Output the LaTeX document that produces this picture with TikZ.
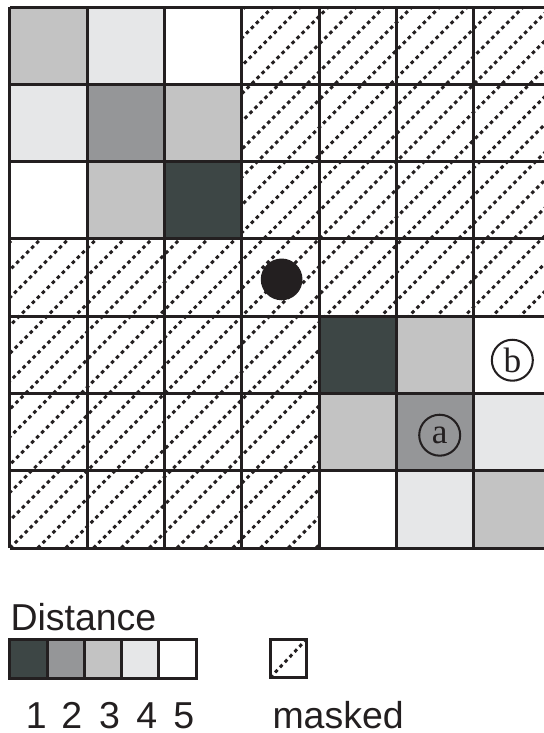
\documentclass[tikz,border=0pt]{standalone}
\usepackage{fontspec}
\setmainfont{Liberation Serif}
\setsansfont{Liberation Sans}
\usetikzlibrary{positioning}
\definecolor{dist1}{HTML}{3D4645}
\definecolor{dist2}{HTML}{959698}
\definecolor{dist3}{HTML}{C3C3C3}
\definecolor{dist4}{HTML}{E6E7E8}
\definecolor{dist5}{HTML}{FFFFFF}
\definecolor{ink}{HTML}{231F20}

\begin{document}
\begin{tikzpicture}[
    gridline/.style={draw=ink, line width=1.1pt},
    hatch/.style={draw=ink, line width=1.1pt, dash pattern=on 1.3pt off 1.3pt},
    tag/.style={circle, draw=ink, line width=0.75pt, inner sep=0pt,
        minimum size=0.53cm, font=\rmfamily\fontsize{13}{13}\selectfont, text=ink},
    seed/.style={circle, fill=ink, inner sep=0pt, minimum size=0.54cm},
    lbl/.style={font=\sffamily\fontsize{13.8}{15}\selectfont, text=ink, inner sep=0pt},
    keybox/.style={rectangle, draw=ink, line width=1.1pt, outer sep=0pt, inner sep=0pt,
        minimum width=0.482cm, minimum height=0.505cm},
]
\useasboundingbox (-0.129,-2.393) rectangle (6.909,7.091);

\begin{scope}
\clip (-0.129,-0.2) rectangle (6.909,7.091);

% DISTANCE CELLS (column / row from top / distance)
\foreach \c/\r/\d in {0/0/3, 1/0/4, 2/0/5, 0/1/4, 1/1/2, 2/1/3, 0/2/5, 1/2/3, 2/2/1,
                      4/4/1, 5/4/3, 6/4/5, 4/5/3, 5/5/2, 6/5/4, 4/6/5, 5/6/4, 6/6/3}
    \fill[dist\d] (\c,6-\r) rectangle ++(1,1);

% MASKED CELLS
\begin{scope}
    \clip (3,4) rectangle (7,7)
          (0,3) rectangle (7,4)
          (0,0) rectangle (4,3);
    \foreach \i in {-20,...,20}
        \draw[hatch] ({0.36*\i},0) -- ++(7,7);
\end{scope}

% GRID
\draw[gridline] (0,0) grid (7,7);
\end{scope}

% SEED AND MARKS
\node[seed] (origin) at (3.515,3.476) {};
\node[tag] (tagA) at (5.56,1.46) {a};
\node[tag] (tagB) at (6.5,2.43) {b};

% LEGEND
\node[lbl, anchor=base west] (title) at (0,-1.061) {Distance};
\node[keybox, fill=dist1] (key1) at (0.241,-1.43) {};
\foreach \d [remember=\d as \p (initially 1)] in {2,...,5}
    \node[keybox, fill=dist\d, right=0pt of key\p] (key\d) {};
\foreach \d/\x in {1/0.34, 2/0.80, 3/1.29, 4/1.77, 5/2.25}
    \node[lbl, anchor=base] (num\d) at (\x,-2.335) {\d};

\node[keybox, minimum width=0.465cm, minimum height=0.49cm] (maskkey) at (3.6,-1.43) {};
\begin{scope}
    \clip (maskkey.south west) rectangle (maskkey.north east);
    \draw[hatch] (maskkey.south west) -- (maskkey.north east);
\end{scope}
\node[lbl, anchor=base west] (masklbl) at (3.39,-2.335) {masked};

\end{tikzpicture}
\end{document}
